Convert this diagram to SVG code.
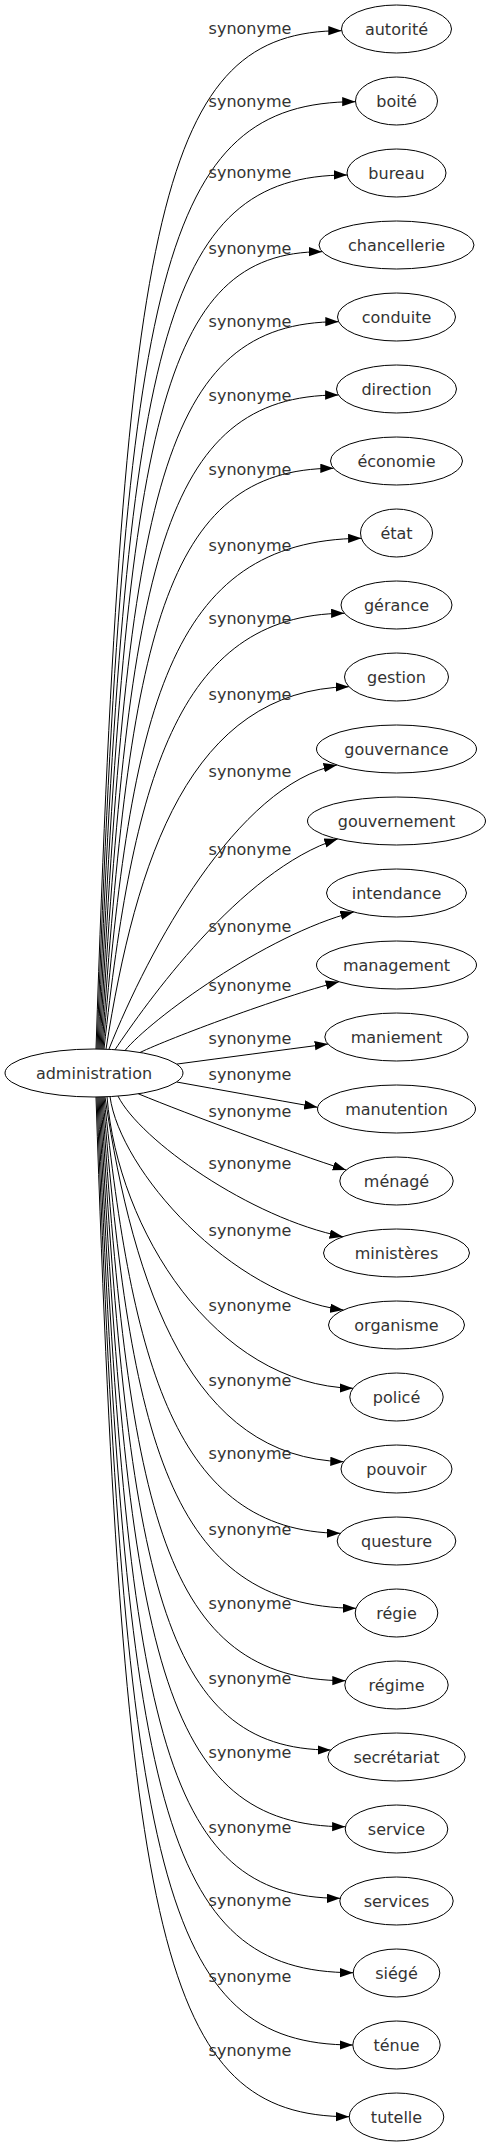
<svg xmlns="http://www.w3.org/2000/svg" width="490" height="2147" viewBox="0 0 490 2147">
<style>
.n ellipse{fill:none;stroke:#000;stroke-width:1}
text{font-family:"DejaVu Sans",sans-serif;font-size:16px;fill:#333;text-anchor:middle}
.e path{fill:none;stroke:#000;stroke-width:1;marker-end:url(#ah)}
</style>
<defs>
<marker id="ah" markerUnits="userSpaceOnUse" markerWidth="14" markerHeight="10" refX="13.3" refY="4.67" orient="auto"><path d="M0,0 L13.3,4.67 L0,9.33 Z" fill="#000"/></marker>
</defs>
<rect width="490" height="2147" fill="#fff"/>
<g id="connectors" class="e">
<path d="M96,1049 C124,202.7 162,30.7 341.6,30.7"/><text x="250" y="33.7">synonyme</text>
<path d="M97,1049 C125,273.7 162,101.7 355.5,101.7"/><text x="250" y="107">synonyme</text>
<path d="M98,1049 C126,347 162,175 347.2,175"/><text x="250" y="178">synonyme</text>
<path d="M99,1049 C127,423.7 162,251.7 322.1,251.7"/><text x="250" y="253.5">synonyme</text>
<path d="M100,1049 C128,493.7 162,321.7 338.6,321.7"/><text x="250" y="327.4">synonyme</text>
<path d="M101,1049 C129,567 162,395 338.4,395"/><text x="250" y="401.3">synonyme</text>
<path d="M102,1049 C130,640.3 163,468.3 333.6,468.3"/><text x="250" y="474.7">synonyme</text>
<path d="M103,1049 C131,710.3 168,540 361.4,538.3"/><text x="250" y="550.7">synonyme</text>
<path d="M104,1049 C133,785.3 175,614 344.4,613.3"/><text x="250" y="624.4">synonyme</text>
<path d="M106,1049 C136,858.7 190,690 348.9,686.7"/><text x="250" y="699.7">synonyme</text>
<path d="M109,1049 C149,949 237,785 336.9,765"/><text x="250" y="777">synonyme</text>
<path d="M115,1049.7 C145,1005 240,870 337.6,839"/><text x="250" y="854.7">synonyme</text>
<path d="M125,1050.5 C150,1020 265,935 353.7,912"/><text x="250" y="932.3">synonyme</text>
<path d="M140,1052.5 C170,1038 280,997 339,981.7"/><text x="250" y="991.3">synonyme</text>
<path d="M176.7,1064.1 C226,1057.5 278,1050.6 328,1044"/><text x="250" y="1044">synonyme</text>
<path d="M176.7,1082 C223,1090.4 270.5,1098.9 317.5,1107.3"/><text x="250" y="1079.7">synonyme</text>
<path d="M138.3,1093.8 C190,1115 290,1152 346.1,1170"/><text x="250" y="1117">synonyme</text>
<path d="M118,1096.1 C140,1140 250,1218 342.9,1236.7"/><text x="250" y="1169">synonyme</text>
<path d="M110,1096.6 C120,1170 230,1295 343.4,1310"/><text x="250" y="1236.3">synonyme</text>
<path d="M107,1096.8 C118,1230 215,1385 353,1388.3"/><text x="250" y="1311.3">synonyme</text>
<path d="M105,1097 C134,1289.7 192,1458 343.6,1461.7"/><text x="250" y="1386.3">synonyme</text>
<path d="M104,1097 C132,1361.3 175,1532 340.3,1533.3"/><text x="250" y="1459">synonyme</text>
<path d="M103,1097 C131,1436.3 168,1607 356,1608.3"/><text x="250" y="1534.6">synonyme</text>
<path d="M102,1097 C130,1508.7 163,1680.7 345.6,1680.7"/><text x="250" y="1608.5">synonyme</text>
<path d="M101,1097 C129,1578 162,1750 330.8,1750"/><text x="250" y="1683.8">synonyme</text>
<path d="M100,1097 C128,1654.7 162,1826.7 345.4,1826.7"/><text x="250" y="1757.7">synonyme</text>
<path d="M99,1097 C127,1726.3 162,1898.3 340.2,1898.3"/><text x="250" y="1833">synonyme</text>
<path d="M98,1097 C126,1800.7 162,1972.7 353.2,1972.7"/><text x="250" y="1905.5">synonyme</text>
<path d="M97,1097 C125,1873 162,2045 352.8,2045"/><text x="250" y="1982.3">synonyme</text>
<path d="M96,1097 C124,1944.7 162,2116.7 349.2,2116.7"/><text x="250" y="2056">synonyme</text>
</g>
<g id="administration" class="n"><ellipse cx="94" cy="1073" rx="89" ry="24"/><text x="94" y="1079">administration</text></g>
<g id="autorite" class="n"><ellipse cx="396.5" cy="29" rx="55" ry="24"/><text x="396.5" y="35">autorité</text></g>
<g id="boite" class="n"><ellipse cx="396.5" cy="101" rx="41" ry="24"/><text x="396.5" y="107">boité</text></g>
<g id="bureau" class="n"><ellipse cx="396.5" cy="173" rx="49.5" ry="24"/><text x="396.5" y="179">bureau</text></g>
<g id="chancellerie" class="n"><ellipse cx="396.5" cy="245" rx="77.5" ry="24"/><text x="396.5" y="251">chancellerie</text></g>
<g id="conduite" class="n"><ellipse cx="396.5" cy="317" rx="59" ry="24"/><text x="396.5" y="323">conduite</text></g>
<g id="direction" class="n"><ellipse cx="396.5" cy="389" rx="60" ry="24"/><text x="396.5" y="395">direction</text></g>
<g id="economie" class="n"><ellipse cx="396.5" cy="461" rx="66" ry="24"/><text x="396.5" y="467">économie</text></g>
<g id="etat" class="n"><ellipse cx="396.5" cy="533" rx="36" ry="24"/><text x="396.5" y="539">état</text></g>
<g id="gerance" class="n"><ellipse cx="396.5" cy="605" rx="55.5" ry="24"/><text x="396.5" y="611">gérance</text></g>
<g id="gestion" class="n"><ellipse cx="396.5" cy="677" rx="52" ry="24"/><text x="396.5" y="683">gestion</text></g>
<g id="gouvernance" class="n"><ellipse cx="396.5" cy="749" rx="80" ry="24"/><text x="396.5" y="755">gouvernance</text></g>
<g id="gouvernement" class="n"><ellipse cx="396.5" cy="821" rx="89" ry="24"/><text x="396.5" y="827">gouvernement</text></g>
<g id="intendance" class="n"><ellipse cx="396.5" cy="893" rx="70" ry="24"/><text x="396.5" y="899">intendance</text></g>
<g id="management" class="n"><ellipse cx="396.5" cy="965" rx="80" ry="24"/><text x="396.5" y="971">management</text></g>
<g id="maniement" class="n"><ellipse cx="396.5" cy="1037" rx="71.7" ry="24"/><text x="396.5" y="1043">maniement</text></g>
<g id="manutention" class="n"><ellipse cx="396.5" cy="1109" rx="79" ry="24"/><text x="396.5" y="1115">manutention</text></g>
<g id="menage" class="n"><ellipse cx="396.5" cy="1181" rx="56.7" ry="24"/><text x="396.5" y="1187">ménagé</text></g>
<g id="ministeres" class="n"><ellipse cx="396.5" cy="1253" rx="73" ry="24"/><text x="396.5" y="1259">ministères</text></g>
<g id="organisme" class="n"><ellipse cx="396.5" cy="1325" rx="68" ry="24"/><text x="396.5" y="1331">organisme</text></g>
<g id="police" class="n"><ellipse cx="396.5" cy="1397" rx="46.7" ry="24"/><text x="396.5" y="1403">policé</text></g>
<g id="pouvoir" class="n"><ellipse cx="396.5" cy="1469" rx="55.5" ry="24"/><text x="396.5" y="1475">pouvoir</text></g>
<g id="questure" class="n"><ellipse cx="396.5" cy="1541" rx="59.3" ry="24"/><text x="396.5" y="1547">questure</text></g>
<g id="regie" class="n"><ellipse cx="396.5" cy="1613" rx="41.3" ry="24"/><text x="396.5" y="1619">régie</text></g>
<g id="regime" class="n"><ellipse cx="396.5" cy="1685" rx="51.7" ry="24"/><text x="396.5" y="1691">régime</text></g>
<g id="secretariat" class="n"><ellipse cx="396.5" cy="1757" rx="68.7" ry="24"/><text x="396.5" y="1763">secrétariat</text></g>
<g id="service" class="n"><ellipse cx="396.5" cy="1829" rx="51.3" ry="24"/><text x="396.5" y="1835">service</text></g>
<g id="services" class="n"><ellipse cx="396.5" cy="1901" rx="56.7" ry="24"/><text x="396.5" y="1907">services</text></g>
<g id="siege" class="n"><ellipse cx="396.5" cy="1973" rx="43.3" ry="24"/><text x="396.5" y="1979">siégé</text></g>
<g id="tenue" class="n"><ellipse cx="396.5" cy="2045" rx="43.7" ry="24"/><text x="396.5" y="2051">ténue</text></g>
<g id="tutelle" class="n"><ellipse cx="396.5" cy="2117" rx="47.3" ry="24"/><text x="396.5" y="2123">tutelle</text></g>
</svg>
